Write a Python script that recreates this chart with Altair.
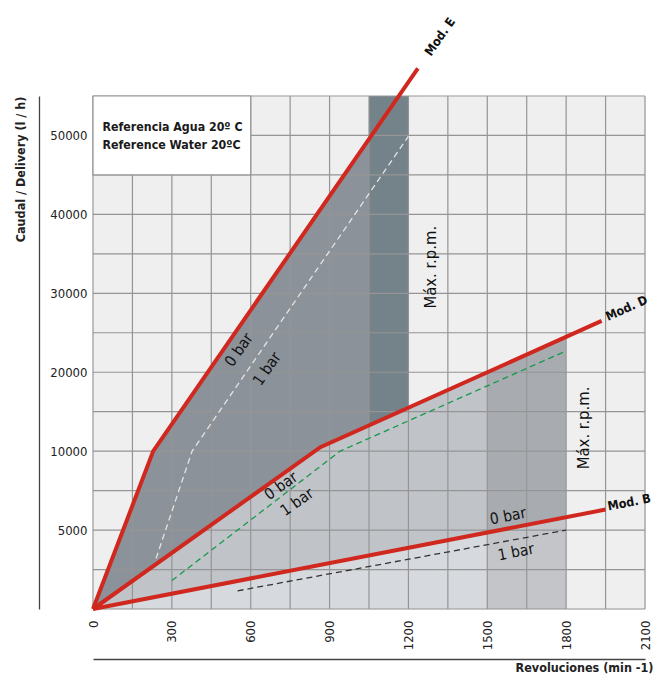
import altair as alt
import pandas as pd

# ---------------- data ----------------
rpm_E = [0, 229, 1236]
flow_E = [0, 10000, 58500]
rpm_D = [0, 865, 1935]
flow_D = [0, 10500, 26500]
rpm_B = [0, 1950]
flow_B = [0, 6300]

rpm_E1 = [240, 377, 1200]
flow_E1 = [3200, 10000, 49900]
rpm_D1 = [300, 940, 1800]
flow_D1 = [1800, 10000, 22700]
rpm_B1 = [550, 1800]
flow_B1 = [1150, 5000]

max_rpm_E = [1050, 1200]
max_rpm_DB = [1500, 1800]

x_ticks = [0, 300, 600, 900, 1200, 1500, 1800, 2100]
y_ticks = [5000, 10000, 20000, 30000, 40000, 50000]
x_grid = [0, 150, 300, 450, 600, 750, 900, 1050, 1200, 1350, 1500, 1650, 1800, 1950, 2100]
y_grid = [0, 2500, 5000, 7500, 10000, 15000, 20000, 25000, 30000, 35000, 40000, 45000, 50000, 55000]

legend_lines = ["Referencia Agua 20º C", "Reference Water 20ºC"]
legend_rpm = [36, 36]
legend_flow = [51100, 48750]
legend_box_rpm = [0, 600]
legend_box_flow = [45000, 55000]

model_names = ["Mod. E", "Mod. D", "Mod. B"]
model_rpm = [1320, 2030, 2040]
model_flow = [62500, 28100, 6750]
model_angle = [305, 336, 349]

bar_texts = ["0 bar", "1 bar", "0 bar", "1 bar", "0 bar", "1 bar"]
bar_rpm = [555, 662, 715, 776, 1579, 1609]
bar_flow = [22830, 20420, 7800, 6780, 5890, 3610]
bar_angle = [305, 305, 325, 325, 349, 349]

max_texts = ["Máx. r.p.m.", "Máx. r.p.m."]
max_rpm_pos = [1286, 1868]
max_flow_pos = [33300, 12940]

# ---------------- styling ----------------
FONT = "DejaVu Sans Condensed, Liberation Sans Narrow, Arial Narrow, sans-serif"
W, H = 552, 513
BG = "#efefef"
RED = "#d0281e"

xs = alt.Scale(domain=[0, 2100], nice=False, zero=False)
ys = alt.Scale(domain=[0, 10000, 55000], range=[H, H - H * 4 / 13, 0], nice=False, zero=False)

x_axis = alt.Axis(values=x_ticks, format="d", grid=False, ticks=False, tickSize=0, domain=True,
                  domainColor="#444", domainWidth=1.3, offset=50, labelAngle=270,
                  labelPadding=-39, labelFontSize=13, labelColor="#222", labelFont=FONT,
                  labelOverlap=False, labelFlush=False,
                  title="Revoluciones (min -1)", titleFont=FONT, titleFontSize=12.5,
                  titleFontWeight="bold", titleColor="#222", titleAnchor="end",
                  titleAlign="right", titleBaseline="alphabetic", titleX=W + 8, titleY=12)
y_axis = alt.Axis(values=y_ticks, format="d", grid=False, ticks=False, tickSize=0, domain=True,
                  domainColor="#444", domainWidth=1.3, offset=54, labelPadding=-48,
                  labelFontSize=13, labelColor="#222", labelFont=FONT, labelOverlap=False,
                  labelFlush=False,
                  title="Caudal / Delivery (l / h)", titleFont=FONT, titleFontSize=12.5,
                  titleFontWeight="bold", titleColor="#222", titleAngle=270,
                  titleAnchor="end", titleAlign="right", titleBaseline="middle",
                  titleX=-19, titleY=0)


def grad(stops):
    return alt.Gradient(gradient="linear", x1=0, x2=1, y1=0, y2=0,
                        stops=[alt.GradientStop(color=c, offset=o) for c, o in stops])


def area(rpm, flow, color):
    df = pd.DataFrame({"rpm": rpm, "flow": flow, "base": [0] * len(rpm)})
    return alt.Chart(df).mark_area(color=color, clip=True).encode(
        x=alt.X("rpm:Q", scale=xs, axis=x_axis),
        y=alt.Y("flow:Q", scale=ys, axis=y_axis, stack=None),
        y2="base:Q",
    )


def line(rpm, flow, color, width, dash=None, clip=False):
    df = pd.DataFrame({"rpm": rpm, "flow": flow})
    kw = dict(color=color, strokeWidth=width, clip=clip)
    if dash:
        kw["strokeDash"] = dash
    return alt.Chart(df).mark_line(**kw).encode(
        x=alt.X("rpm:Q", scale=xs), y=alt.Y("flow:Q", scale=ys))


# areas (gradients cut the fills at the max rpm limits)
fe = rpm_E[-1]
area_E = area(rpm_E, flow_E, grad([("#8b9299", 0), ("#8b9299", max_rpm_E[1] / fe),
                                   (BG, max_rpm_E[1] / fe), (BG, 1)]))
band_E = alt.Chart(pd.DataFrame({"x": [max_rpm_E[0]], "x2": [max_rpm_E[1]],
                                 "y": [0], "y2": [55000]})).mark_rect(color="#748289").encode(
    x=alt.X("x:Q", scale=xs), x2="x2", y=alt.Y("y:Q", scale=ys), y2="y2")
fd = rpm_D[-1]
area_D = area(rpm_D, flow_D, grad([("#c0c3c8", 0), ("#c0c3c8", max_rpm_DB[0] / fd),
                                   ("#a8abb0", max_rpm_DB[0] / fd), ("#a8abb0", max_rpm_DB[1] / fd),
                                   (BG, max_rpm_DB[1] / fd), (BG, 1)]))
fb = rpm_B[-1]
area_B = area(rpm_B, flow_B, grad([("#d6d9de", 0), ("#d6d9de", max_rpm_DB[0] / fb),
                                   ("#c3c5c9", max_rpm_DB[0] / fb), ("#c3c5c9", max_rpm_DB[1] / fb),
                                   (BG, max_rpm_DB[1] / fb), (BG, 1)]))

grid_x = alt.Chart(pd.DataFrame({"g": x_grid})).mark_rule(color="#959595", strokeWidth=1.2).encode(
    x=alt.X("g:Q", scale=xs))
grid_y = alt.Chart(pd.DataFrame({"g": y_grid})).mark_rule(color="#959595", strokeWidth=1.2).encode(
    y=alt.Y("g:Q", scale=ys))

legend_box = alt.Chart(pd.DataFrame({"x": [legend_box_rpm[0]], "x2": [legend_box_rpm[1]],
                                     "y": [legend_box_flow[0]], "y2": [legend_box_flow[1]]})).mark_rect(
    color="white", stroke="#959595", strokeWidth=1.2).encode(
    x=alt.X("x:Q", scale=xs), x2="x2", y=alt.Y("y:Q", scale=ys), y2="y2")
legend_txt = alt.Chart(pd.DataFrame({"t": legend_lines, "x": legend_rpm, "y": legend_flow})).mark_text(
    font=FONT, fontSize=12.3, fontWeight="bold", color="#1a1a1a", align="left", baseline="middle").encode(
    x=alt.X("x:Q", scale=xs), y=alt.Y("y:Q", scale=ys), text="t:N")

dash_E = line(rpm_E1, flow_E1, "#e4e4e4", 1.3, [6, 4], clip=True)
dash_D = line(rpm_D1, flow_D1, "#159a4a", 1.3, [6, 4], clip=True)
dash_B = line(rpm_B1, flow_B1, "#333333", 1.3, [6, 4], clip=True)

red_E = line(rpm_E, flow_E, RED, 4)
red_D = line(rpm_D, flow_D, RED, 4)
red_B = line(rpm_B, flow_B, RED, 4)


def labels(texts, rpm, flow, angle, size, weight="normal"):
    df = pd.DataFrame({"t": texts, "x": rpm, "y": flow, "a": angle})
    return alt.Chart(df).mark_text(font=FONT, fontSize=size, fontWeight=weight, color="#111",
                                   align="center", baseline="middle", clip=False).encode(
        x=alt.X("x:Q", scale=xs), y=alt.Y("y:Q", scale=ys), text="t:N",
        angle=alt.Angle("a:Q", scale=None))


mod_lbl = labels(model_names, model_rpm, model_flow, model_angle, 12.5, "bold")
bar_lbl = labels(bar_texts, bar_rpm, bar_flow, bar_angle, 15.5)
max_lbl = labels(max_texts, max_rpm_pos, max_flow_pos, [270, 270], 16.5)

chart = alt.layer(
    area_E, band_E, area_D, area_B, grid_x, grid_y, legend_box, legend_txt,
    dash_E, dash_D, dash_B, red_E, red_D, red_B, mod_lbl, bar_lbl, max_lbl
).properties(
    width=W, height=H,
    autosize=alt.AutoSizeParams(type="none"),
    padding={"left": 85, "top": 88, "right": 11, "bottom": 66},
    background="white",
).configure_view(fill=BG, stroke="transparent")

chart.save("out.html", embed_options={"renderer": "svg", "actions": False})
